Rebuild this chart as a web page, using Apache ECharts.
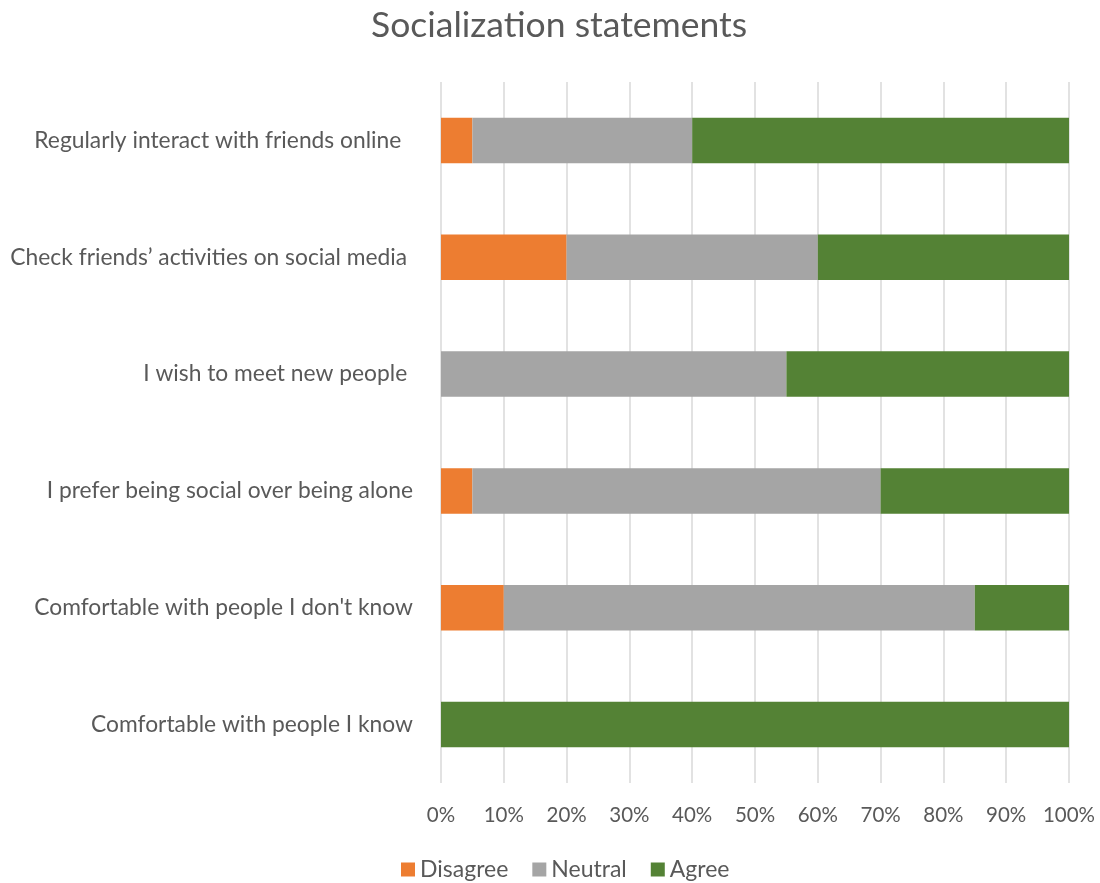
<!DOCTYPE html>
<html>
<head>
<meta charset="utf-8">
<script src="https://cdn.jsdelivr.net/npm/echarts@6/dist/echarts.min.js"></script>
<style>
  html, body { margin: 0; padding: 0; background: #ffffff; }
  #chart { width: 1100px; height: 883px; }
</style>
</head>
<body>
<div id="chart"></div>
<script>
// Statements, listed top to bottom
const statements = [
  'Regularly interact with friends online  ',
  'Check friends\u2019 activities on social media ',
  'I wish to meet new people ',
  'I prefer being social over being alone',
  'Comfortable with people I don\'t know',
  'Comfortable with people I know'
];

// Share of responses (%) per statement
const disagree = [5, 20, 0, 5, 10, 0];
const neutral  = [35, 40, 55, 65, 75, 0];
const agree    = [60, 40, 45, 30, 15, 100];

const seriesNames = ['Disagree', 'Neutral', 'Agree'];
const seriesColors = ['#ED7D31', '#A5A5A5', '#548235'];
const seriesValues = [disagree, neutral, agree];

const FONT = 'Lato, "Open Sans", sans-serif';
const TEXT = '#595959';

const chart = echarts.init(document.getElementById('chart'));

chart.setOption({
  animation: false,
  textStyle: { fontFamily: FONT },
  title: {
    text: 'Socialization statements',
    left: 366,
    top: 3,
    textStyle: { fontFamily: FONT, fontSize: 35.5, fontWeight: 'normal', color: TEXT }
  },
  legend: {
    bottom: -3,
    left: 396,
    icon: 'rect',
    itemWidth: 14,
    itemHeight: 14,
    itemGap: 24,
    textStyle: { fontFamily: FONT, fontSize: 23, color: TEXT },
    data: seriesNames
  },
  grid: { left: 441, right: 31, top: 82, bottom: 100 },
  xAxis: {
    type: 'value',
    min: 0,
    max: 100,
    interval: 10,
    axisLine: { show: false },
    axisTick: { show: false },
    splitLine: { lineStyle: { color: '#d9d9d9', width: 1.5 } },
    axisLabel: {
      formatter: '{value}%',
      fontFamily: FONT,
      fontSize: 20.5,
      color: TEXT,
      margin: 22
    }
  },
  yAxis: {
    type: 'category',
    inverse: true,
    data: statements,
    axisLine: { show: false },
    axisTick: { show: false },
    axisLabel: {
      fontFamily: FONT,
      fontSize: 22.8,
      color: TEXT,
      margin: 28
    }
  },
  series: seriesNames.map((name, i) => ({
    name: name,
    type: 'bar',
    stack: 'total',
    barWidth: '39%',
    itemStyle: { color: seriesColors[i] },
    data: seriesValues[i]
  }))
});
</script>
</body>
</html>
